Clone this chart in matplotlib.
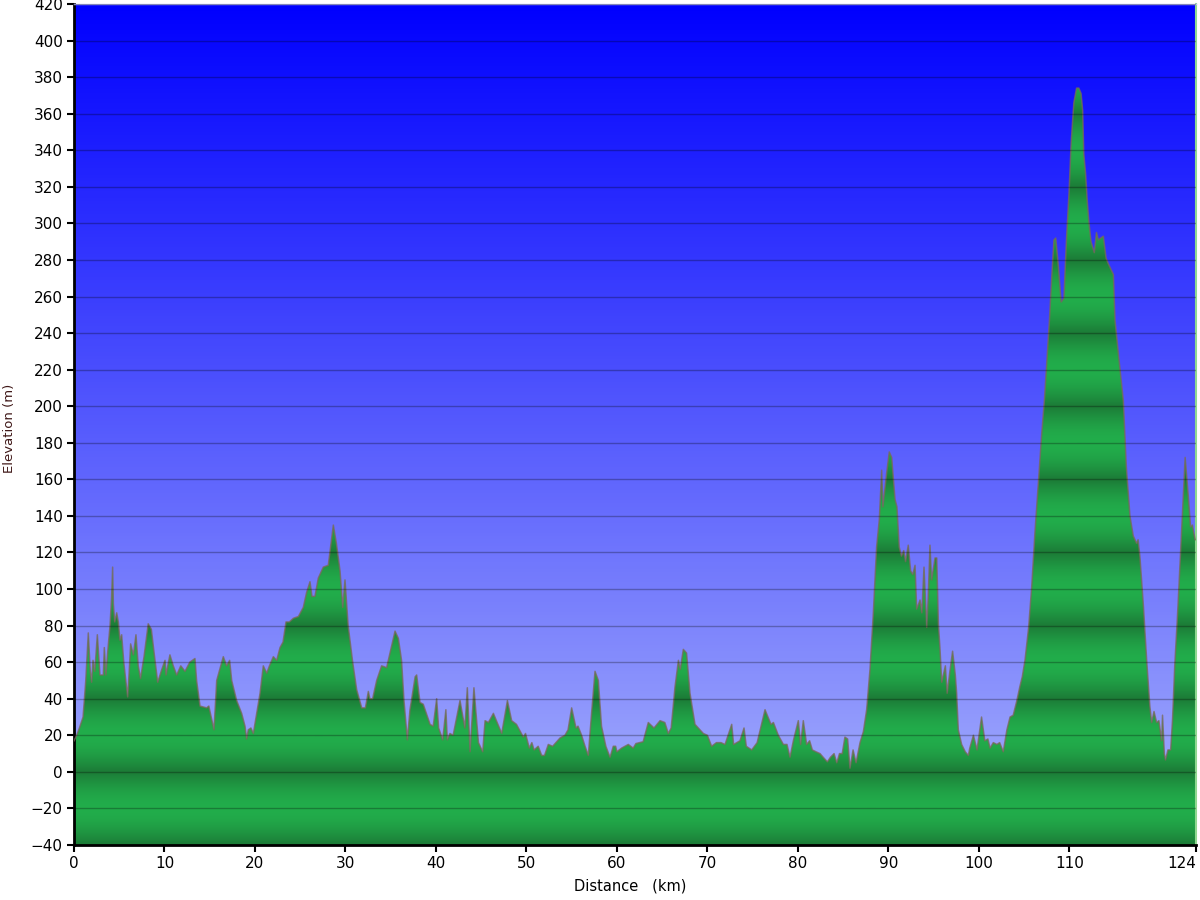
import numpy as np
import matplotlib.pyplot as plt
from matplotlib.colors import LinearSegmentedColormap
from matplotlib.patches import Polygon

# --- profile data (km, m) ---
dist = [0.0, 0.3, 0.6, 1.0, 1.3, 1.58, 1.8, 1.95, 2.1, 2.3, 2.58, 2.87, 3.24, 3.35, 3.53,
        3.8, 3.98, 4.15, 4.27, 4.35, 4.5, 4.72, 4.9, 5.08, 5.27, 5.5, 5.93, 6.1, 6.26,
        6.56, 6.85, 7.1, 7.35, 7.74, 8.2, 8.55, 8.88, 9.25, 9.7, 10.06, 10.17, 10.6,
        10.97, 11.35, 11.8, 12.27, 12.8, 13.37, 13.55, 13.93, 14.66, 14.9, 15.47, 15.77,
        16.5, 16.87, 17.2, 17.43, 17.98, 18.53, 18.9, 19.08, 19.26, 19.55, 19.82, 20.19,
        20.56, 20.92, 21.3, 21.6, 22.03, 22.4, 22.77, 23.1, 23.43, 23.8, 24.24, 24.8,
        25.34, 25.7, 26.08, 26.3, 26.63, 27.0, 27.55, 28.1, 28.4, 28.66, 29.0, 29.4,
        29.7, 29.95, 30.3, 30.8, 31.24, 31.8, 32.2, 32.53, 32.7, 33.0, 33.45, 34.0,
        34.55, 34.92, 35.48, 35.85, 36.2, 36.47, 36.84, 37.13, 37.7, 37.87, 38.24, 38.6,
        39.35, 39.7, 40.08, 40.3, 40.75, 41.1, 41.26, 41.55, 41.9, 42.66, 43.2, 43.47,
        43.77, 44.2, 44.7, 45.17, 45.43, 45.8, 46.35, 47.27, 47.9, 48.37, 48.9, 49.66,
        49.9, 50.32, 50.6, 50.85, 51.3, 51.69, 52.0, 52.42, 52.9, 53.71, 54.26, 54.6,
        55.0, 55.48, 55.7, 56.1, 56.48, 56.84, 57.2, 57.58, 57.95, 58.3, 58.78, 59.24,
        59.6, 59.86, 60.0, 60.52, 61.26, 61.8, 62.1, 62.9, 63.47, 64.1, 64.77, 65.3,
        65.68, 66.0, 66.42, 66.8, 67.0, 67.34, 67.7, 68.08, 68.63, 69.55, 70.0, 70.47,
        71.0, 71.5, 71.95, 72.69, 72.9, 73.6, 74.05, 74.3, 74.9, 75.5, 76.37, 77.03,
        77.3, 77.84, 78.4, 78.8, 79.13, 79.5, 80.05, 80.3, 80.6, 80.97, 81.3, 81.6,
        82.0, 82.45, 82.8, 83.26, 83.6, 84.0, 84.3, 84.6, 84.9, 85.2, 85.5, 85.76,
        86.1, 86.43, 86.87, 87.24, 87.6, 87.97, 88.34, 88.7, 89.0, 89.26, 89.4, 89.8,
        90.1, 90.37, 90.74, 90.95, 91.2, 91.45, 91.7, 91.9, 92.2, 92.46, 92.7, 92.95,
        93.13, 93.5, 93.7, 93.94, 94.24, 94.4, 94.6, 94.78, 95.16, 95.35, 95.53, 95.7,
        95.9, 96.3, 96.5, 96.8, 97.1, 97.4, 97.55, 97.73, 98.1, 98.5, 98.84, 99.0,
        99.4, 99.8, 100.3, 100.66, 101.0, 101.24, 101.6, 102.0, 102.3, 102.7, 103.1,
        103.45, 103.8, 104.2, 104.55, 104.8, 105.1, 105.5, 105.84, 106.2, 106.57,
        106.95, 107.24, 107.8, 108.06, 108.3, 108.5, 108.8, 109.1, 109.4, 109.7,
        109.97, 110.2, 110.5, 110.8, 111.05, 111.3, 111.47, 111.6, 111.8, 111.97,
        112.18, 112.4, 112.76, 113.0, 113.2, 113.76, 114.06, 114.3, 114.87, 115.05,
        115.5, 115.97, 116.3, 116.7, 117.07, 117.44, 117.6, 117.8, 118.2, 118.55,
        118.9, 119.1, 119.36, 119.65, 119.9, 120.2, 120.3, 120.5, 120.63, 120.9,
        121.2, 121.4, 121.65, 122.0, 122.4, 122.8, 123.1, 123.4, 123.6, 123.9, 124.0]

elev = [17, 20, 24, 30, 50, 76, 55, 49, 61, 55, 75, 53, 53, 68, 53,
        70, 80, 95, 112, 92, 82, 87, 82, 72, 75, 60, 41, 55, 70,
        64, 75, 58, 51, 63, 81, 78, 64, 49, 56, 61, 53, 64,
        58, 53, 58, 55, 60, 62, 50, 36, 35, 36, 23, 50,
        63, 58, 61, 50, 39, 32, 25, 18, 23, 24, 21, 32,
        43, 58, 54, 58, 63, 61, 68, 71, 82, 82, 84, 85,
        90, 98, 104, 96, 96, 106, 112, 113, 125, 135, 125, 110,
        90, 105, 80, 60, 45, 35, 35, 44, 40, 40, 50, 58,
        57, 65, 77, 73, 61, 39, 17.5, 34, 52, 53, 38, 37,
        26, 25, 40, 24, 17.5, 34, 17.5, 21, 20, 39, 24, 46,
        11, 46, 16, 11, 28, 27, 32, 21, 39, 28, 26, 19,
        21, 13, 16, 12, 14, 9, 9, 15, 14, 18.5, 20, 23,
        35, 24, 25, 20, 14, 9, 32, 55, 50, 25, 14, 8,
        14, 14, 11, 13, 15, 13, 15.5, 16.5, 27, 24, 28, 27,
        21, 24, 46.5, 61, 56, 67, 65, 43, 26, 21, 20, 14,
        16, 16, 15, 26, 15, 17, 24, 14, 12, 16, 34, 26,
        27, 20, 15, 15, 8, 17, 28, 15, 28, 15, 17, 12,
        11, 10, 8, 5.5, 8, 10, 5, 10, 10, 19, 18, 2,
        12, 5, 16, 22, 34, 56, 87, 123, 138, 165, 145, 163,
        175, 172, 149, 145, 123, 118, 121, 115, 124, 110, 108, 113,
        89, 94, 87, 112, 79, 95, 124, 105, 117, 117, 81, 68,
        49, 58, 43, 55, 66, 53, 43, 23, 15, 11, 9, 13,
        20, 12, 30, 17, 18, 13, 16, 15, 16, 11, 23,
        30, 31, 39, 47, 52, 61, 79, 101, 131, 158,
        185, 203, 247, 271, 291, 292, 276, 257, 259, 293,
        317, 344, 366, 374, 374, 371, 362, 338, 327, 313,
        300, 290, 284, 295, 291, 293, 281, 278, 272, 247,
        225, 203, 167, 140, 129, 125, 127, 118, 90, 61,
        36, 27, 33, 27, 28, 17, 31, 10, 6.5, 12,
        12, 28, 58, 90, 131, 172, 154, 134, 135, 127, 127]

x_ticks = [0, 10, 20, 30, 40, 50, 60, 70, 80, 90, 100, 110, 124]
y_ticks = list(range(-40, 421, 20))

X_MAX = 124
Y_MIN, Y_MAX = -40, 420

fig = plt.figure(figsize=(12, 9), dpi=100)
ax = fig.add_axes([74 / 1200, 55 / 900, 1122 / 1200, 841 / 900])

# sky gradient: light lavender at the bottom to pure blue at the top
sky = LinearSegmentedColormap.from_list('sky', ['#aab4fc', '#0000ff'])
ax.imshow(np.linspace(0, 1, 256).reshape(-1, 1), origin='lower', aspect='auto',
          extent=[0, X_MAX, Y_MIN, Y_MAX], cmap=sky, zorder=0)

# banded green fill, dark at multiples of 40 m
yy = np.linspace(Y_MIN, Y_MAX, 2000)
band = np.sqrt((1 - np.cos(2 * np.pi * yy / 40)) / 2)
greens = LinearSegmentedColormap.from_list('greens', ['#1c7b37', '#22ad4b'])
outline = list(zip(dist, elev)) + [(X_MAX, Y_MIN), (0, Y_MIN)]
patch = Polygon(outline, closed=True, fc='none', ec='none')
ax.add_patch(patch)
im = ax.imshow(band.reshape(-1, 1), origin='lower', aspect='auto',
               extent=[0, X_MAX, Y_MIN, Y_MAX], cmap=greens, zorder=1)
im.set_clip_path(patch)

ax.plot(dist, elev, color='#7a6858', lw=1.1, alpha=0.75, zorder=3)

for y in y_ticks:
    ax.axhline(y, color='black', lw=1, alpha=0.28, zorder=4)

ax.set_xlim(0, X_MAX)
ax.set_ylim(Y_MIN, Y_MAX)
ax.set_xticks(x_ticks)
ax.set_yticks(y_ticks)
ax.tick_params(direction='out', length=5, width=1.5, labelsize=11, pad=3)
ax.get_xticklabels()[-1].set_horizontalalignment('right')

ax.spines['left'].set_linewidth(2)
ax.spines['bottom'].set_linewidth(2)
ax.spines['top'].set_color('#b8bcff')
ax.spines['top'].set_linewidth(1)
ax.spines['right'].set_color('#90d890')
ax.spines['right'].set_linewidth(1.5)

fig.text(10 / 1200, 1 - 428 / 900, 'Elevation (m)', rotation=90,
         ha='center', va='center', fontsize=9.5, color='#401818')
fig.text(630 / 1200, 1 - 886 / 900, 'Distance   (km)',
         ha='center', va='center', fontsize=10.5, color='black')

fig.savefig('out.png', dpi=100)
